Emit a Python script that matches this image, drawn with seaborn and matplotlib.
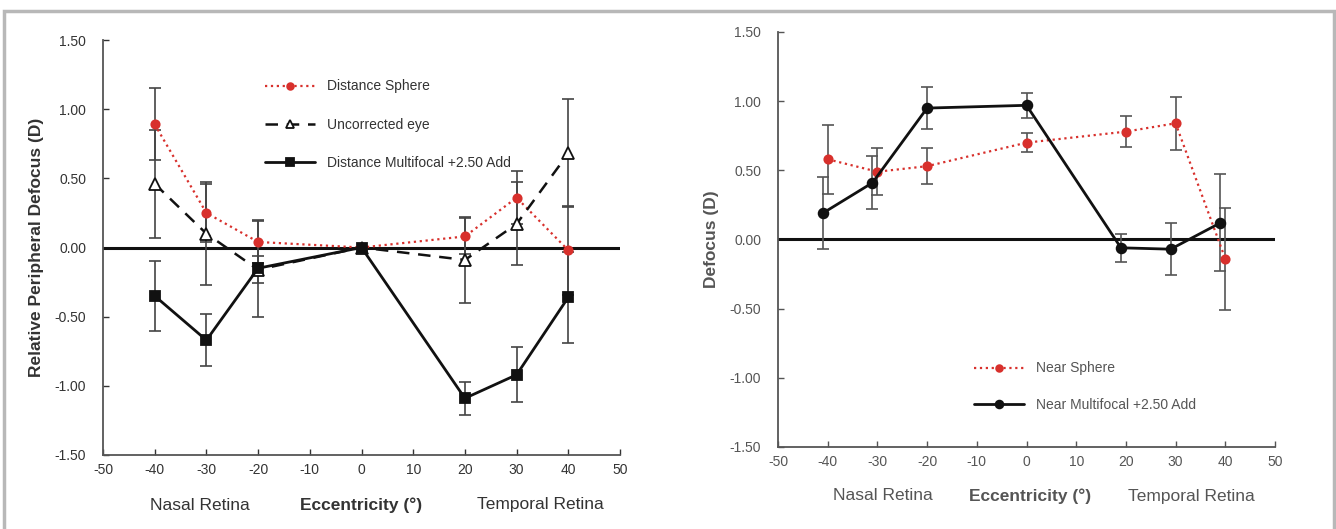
import matplotlib
matplotlib.use("Agg")
import matplotlib.pyplot as plt
import matplotlib.patches as mpatches
import seaborn as sns
import pandas as pd

sns.set_theme(style="white")
plt.rcParams['font.family'] = ['Liberation Sans', 'DejaVu Sans']
plt.rcParams['axes.unicode_minus'] = False

# eccentricity (deg)
ecc = [-40, -30, -20, 0, 20, 30, 40]

# left panel: relative peripheral defocus (D)
dist_sphere = [0.89, 0.25, 0.04, 0.00, 0.08, 0.36, -0.02]
dist_sphere_err = [0.26, 0.21, 0.15, 0.00, 0.13, 0.19, 0.32]
uncorrected = [0.46, 0.10, -0.16, 0.00, -0.09, 0.17, 0.68]
uncorrected_err = [0.39, 0.37, 0.10, 0.00, 0.31, 0.30, 0.39]
dist_multi = [-0.35, -0.67, -0.15, 0.00, -1.09, -0.92, -0.36]
dist_multi_err = [0.25, 0.19, 0.35, 0.00, 0.12, 0.20, 0.33]

# right panel: defocus (D)
near_sphere_x = [-40, -30, -20, 0, 20, 30, 40]
near_sphere = [0.58, 0.49, 0.53, 0.70, 0.78, 0.84, -0.14]
near_sphere_err = [0.25, 0.17, 0.13, 0.07, 0.11, 0.19, 0.37]
near_multi_x = [-41, -31, -20, 0, 19, 29, 39]
near_multi = [0.19, 0.41, 0.95, 0.97, -0.06, -0.07, 0.12]
near_multi_err = [0.26, 0.19, 0.15, 0.09, 0.10, 0.19, 0.35]

xticks = [-50, -40, -30, -20, -10, 0, 10, 20, 30, 40, 50]
yticks = [-1.5, -1.0, -0.5, 0.0, 0.5, 1.0, 1.5]

RED = "#d8302c"

fig = plt.figure(figsize=(13.36, 5.29), dpi=100)
fig.patches.append(mpatches.Rectangle((4 / 1336, -0.05), 1330 / 1336, 1.05 - 11 / 529,
                                      transform=fig.transFigure, fill=False,
                                      edgecolor="#b8b8b8", linewidth=2.5))

ax1 = fig.add_axes([103 / 1336, 1 - 455 / 529, 517 / 1336, 415 / 529])
ax2 = fig.add_axes([778 / 1336, 1 - 447 / 529, 497 / 1336, 415 / 529])


def draw(ax, x, y, err, color, ls, marker, mfc, ms, lw, label, ecolor):
    df = pd.DataFrame({"x": x, "y": y})
    ax.errorbar(x, y, yerr=err, fmt="none", ecolor=ecolor, elinewidth=1.2,
                capsize=4, capthick=1.2, zorder=2)
    sns.lineplot(data=df, x="x", y="y", ax=ax, color=color, linestyle=ls,
                 linewidth=lw, marker=marker, markerfacecolor=mfc,
                 markeredgecolor=color, markersize=ms, markeredgewidth=1.3,
                 label=label, zorder=3, sort=False)


def style(ax, ylabel, tc):
    ax.axhline(0, color="#111111", linewidth=2.2, zorder=1)
    ax.set_xlim(-50, 50)
    ax.set_ylim(-1.5, 1.5)
    ax.set_xticks(xticks)
    ax.set_yticks(yticks)
    ax.set_yticklabels([f"{v:.2f}" for v in yticks])
    ax.tick_params(direction="in", length=4, width=1, labelsize=10,
                   colors=tc, pad=6, left=True, bottom=True)
    ax.tick_params(axis="y", pad=12)
    for s in ["top", "right"]:
        ax.spines[s].set_visible(False)
    for s in ["left", "bottom"]:
        ax.spines[s].set_color("#555555")
        ax.spines[s].set_linewidth(1.3)
    ax.set_xlabel("")
    ax.set_ylabel(ylabel, fontsize=12.5, fontweight="bold", color=tc, labelpad=8)
    ax.set_facecolor("white")


# left panel
draw(ax1, ecc, dist_sphere, dist_sphere_err, RED, ":", "o", RED, 6, 1.6,
     "Distance Sphere", "#444444")
draw(ax1, ecc, uncorrected, uncorrected_err, "#111111", (0, (5, 3.5)), "^", "white", 8, 1.8,
     "Uncorrected eye", "#444444")
draw(ax1, ecc, dist_multi, dist_multi_err, "#111111", "-", "s", "#111111", 6.5, 2.0,
     "Distance Multifocal +2.50 Add", "#444444")
style(ax1, "Relative Peripheral Defocus (D)", "#333333")
ax1.legend(loc="upper left", bbox_to_anchor=(0.29, 0.935), frameon=False,
           fontsize=10, handlelength=3.6, labelspacing=1.75, markerscale=0.8,
           labelcolor="#333333")

# right panel
draw(ax2, near_sphere_x, near_sphere, near_sphere_err, RED, ":", "o", RED, 6, 1.6,
     "Near Sphere", "#555555")
draw(ax2, near_multi_x, near_multi, near_multi_err, "#111111", "-", "o", "#111111", 7, 2.0,
     "Near Multifocal +2.50 Add", "#555555")
style(ax2, "Defocus (D)", "#555555")
ax2.legend(loc="lower left", bbox_to_anchor=(0.37, 0.055), frameon=False,
           fontsize=10, handlelength=3.6, labelspacing=1.6, markerscale=0.8,
           labelcolor="#555555")

# bottom annotations
fig.text(200 / 1336, 1 - 505 / 529, "Nasal Retina", ha="center", va="center", fontsize=12.5, color="#333333")
fig.text(361 / 1336, 1 - 505 / 529, "Eccentricity (°)", ha="center", va="center", fontsize=12.5,
         fontweight="bold", color="#333333")
fig.text(540 / 1336, 1 - 505 / 529, "Temporal Retina", ha="center", va="center", fontsize=12.5, color="#333333")
fig.text(883 / 1336, 1 - 496 / 529, "Nasal Retina", ha="center", va="center", fontsize=12.5, color="#555555")
fig.text(1030 / 1336, 1 - 496 / 529, "Eccentricity (°)", ha="center", va="center", fontsize=12.5,
         fontweight="bold", color="#555555")
fig.text(1191 / 1336, 1 - 496 / 529, "Temporal Retina", ha="center", va="center", fontsize=12.5, color="#555555")

fig.savefig("out.png", dpi=100, facecolor="white")
